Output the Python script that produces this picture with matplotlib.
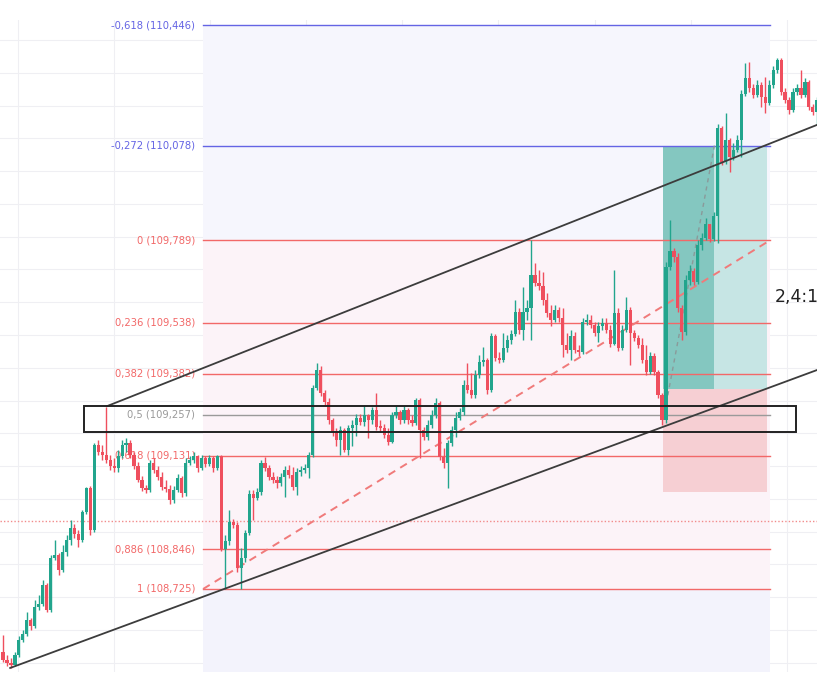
from __future__ import annotations

import matplotlib
matplotlib.use("Agg")
import matplotlib.pyplot as plt
import numpy as np
from matplotlib.patches import Rectangle


OUTPUT_FILE = "out.png"

# candle data (prices), open of each bar = previous close
FIRST_OPEN = 108.533
CLOSE = [
    108.509, 108.500, 108.494, 108.524, 108.570, 108.588, 108.631, 108.613, 108.671, 108.680,
    108.738, 108.661, 108.820, 108.829, 108.783, 108.838, 108.875, 108.912, 108.893, 108.875,
    108.960, 109.034, 108.905, 109.165, 109.143, 109.134, 109.119, 109.101, 109.095, 109.131,
    109.165, 109.171, 109.134, 109.101, 109.058, 109.034, 109.027, 109.110, 109.088, 109.067,
    109.037, 109.031, 108.997, 109.027, 109.064, 109.018, 109.110, 109.119, 109.131, 109.095,
    109.125, 109.107, 109.125, 109.095, 109.131, 108.848, 108.872, 108.930, 108.921, 108.790,
    108.820, 108.896, 109.015, 109.003, 109.021, 109.110, 109.095, 109.067, 109.058, 109.049,
    109.067, 109.088, 109.073, 109.037, 109.082, 109.088, 109.095, 109.134, 109.339, 109.393,
    109.323, 109.296, 109.241, 109.204, 109.180, 109.210, 109.149, 109.217, 109.226, 109.247,
    109.235, 109.256, 109.241, 109.271, 109.220, 109.217, 109.195, 109.174, 109.256, 109.265,
    109.241, 109.271, 109.241, 109.232, 109.302, 109.210, 109.189, 109.226, 109.256, 109.293,
    109.128, 109.110, 109.171, 109.210, 109.247, 109.265, 109.348, 109.332, 109.317, 109.378,
    109.418, 109.424, 109.332, 109.497, 109.430, 109.424, 109.461, 109.485, 109.503, 109.570,
    109.515, 109.570, 109.583, 109.683, 109.659, 109.650, 109.607, 109.567, 109.546, 109.576,
    109.552, 109.470, 109.454, 109.497, 109.454, 109.448, 109.540, 109.546, 109.531, 109.506,
    109.528, 109.537, 109.515, 109.473, 109.567, 109.461, 109.515, 109.576, 109.506, 109.491,
    109.470, 109.424, 109.387, 109.436, 109.387, 109.317, 109.241, 109.708, 109.756, 109.738,
    109.583, 109.509, 109.668, 109.695, 109.662, 109.775, 109.796, 109.839, 109.793, 109.863,
    110.132, 110.028, 110.095, 110.043, 110.064, 110.095, 110.235, 110.284, 110.254, 110.232,
    110.263, 110.226, 110.208, 110.263, 110.308, 110.339, 110.241, 110.217, 110.186, 110.241,
    110.254, 110.232, 110.272, 110.196, 110.180, 110.217,
]
HIGH = [
    108.585, 108.524, 108.515, 108.533, 108.582, 108.600, 108.655, 108.637, 108.692, 108.707,
    108.753, 108.744, 108.829, 108.875, 108.835, 108.860, 108.890, 108.936, 108.924, 108.905,
    108.966, 109.037, 109.040, 109.171, 109.180, 109.165, 109.281, 109.134, 109.125, 109.149,
    109.180, 109.186, 109.180, 109.143, 109.113, 109.070, 109.043, 109.119, 109.125, 109.101,
    109.082, 109.058, 109.043, 109.040, 109.076, 109.070, 109.125, 109.131, 109.143, 109.134,
    109.134, 109.131, 109.134, 109.131, 109.134, 109.134, 108.890, 108.966, 108.939, 108.930,
    108.851, 108.905, 109.027, 109.027, 109.034, 109.119, 109.128, 109.104, 109.082, 109.070,
    109.079, 109.101, 109.104, 109.098, 109.095, 109.101, 109.107, 109.143, 109.348, 109.415,
    109.406, 109.332, 109.308, 109.247, 109.217, 109.223, 109.217, 109.226, 109.241, 109.259,
    109.259, 109.287, 109.259, 109.281, 109.323, 109.241, 109.229, 109.217, 109.265, 109.284,
    109.271, 109.284, 109.278, 109.256, 109.308, 109.308, 109.220, 109.241, 109.271, 109.308,
    109.299, 109.156, 109.180, 109.223, 109.265, 109.278, 109.363, 109.415, 109.384, 109.393,
    109.439, 109.464, 109.430, 109.506, 109.503, 109.448, 109.506, 109.500, 109.515, 109.607,
    109.583, 109.647, 109.607, 109.790, 109.720, 109.698, 109.692, 109.628, 109.592, 109.592,
    109.586, 109.583, 109.506, 109.515, 109.509, 109.470, 109.552, 109.564, 109.561, 109.540,
    109.540, 109.552, 109.552, 109.531, 109.698, 109.583, 109.531, 109.616, 109.586, 109.515,
    109.500, 109.491, 109.470, 109.448, 109.445, 109.393, 109.323, 109.723, 109.851, 109.766,
    109.750, 109.592, 109.683, 109.714, 109.705, 109.790, 109.811, 109.857, 109.839, 109.875,
    110.144, 110.138, 110.177, 110.101, 110.086, 110.110, 110.247, 110.330, 110.333, 110.266,
    110.278, 110.272, 110.287, 110.278, 110.321, 110.345, 110.345, 110.254, 110.226, 110.254,
    110.266, 110.308, 110.284, 110.278, 110.205, 110.226,
]
LOW = [
    108.503, 108.491, 108.485, 108.491, 108.518, 108.564, 108.582, 108.600, 108.607, 108.661,
    108.674, 108.655, 108.655, 108.814, 108.768, 108.777, 108.826, 108.860, 108.881, 108.854,
    108.869, 108.954, 108.890, 108.899, 109.134, 109.119, 109.110, 109.088, 109.082, 109.082,
    109.125, 109.143, 109.125, 109.092, 109.052, 109.024, 109.018, 109.021, 109.079, 109.058,
    109.027, 109.021, 108.985, 108.988, 109.021, 109.006, 109.009, 109.104, 109.110, 109.082,
    109.088, 109.098, 109.101, 109.082, 109.088, 108.841, 108.726, 108.860, 108.912, 108.777,
    108.726, 108.808, 108.890, 108.936, 108.997, 109.012, 109.085, 109.058, 109.049, 109.034,
    109.040, 109.006, 109.064, 109.027, 109.012, 109.070, 109.079, 109.064, 109.128, 109.332,
    109.314, 109.284, 109.229, 109.192, 109.162, 109.134, 109.143, 109.134, 109.162, 109.192,
    109.226, 109.223, 109.186, 109.229, 109.210, 109.204, 109.186, 109.165, 109.171, 109.247,
    109.229, 109.232, 109.229, 109.223, 109.226, 109.125, 109.180, 109.180, 109.217, 109.247,
    109.119, 109.095, 109.034, 109.162, 109.189, 109.241, 109.256, 109.323, 109.308, 109.308,
    109.369, 109.406, 109.320, 109.326, 109.421, 109.415, 109.418, 109.448, 109.473, 109.497,
    109.503, 109.485, 109.546, 109.485, 109.650, 109.637, 109.592, 109.555, 109.528, 109.540,
    109.540, 109.433, 109.445, 109.424, 109.445, 109.436, 109.442, 109.531, 109.522, 109.497,
    109.479, 109.515, 109.506, 109.464, 109.470, 109.451, 109.454, 109.509, 109.409, 109.482,
    109.461, 109.415, 109.378, 109.381, 109.378, 109.308, 109.226, 109.232, 109.698, 109.723,
    109.570, 109.485, 109.500, 109.653, 109.653, 109.656, 109.759, 109.790, 109.784, 109.787,
    109.781, 110.019, 110.022, 109.997, 110.034, 110.058, 110.043, 110.229, 110.241, 110.223,
    110.226, 110.196, 110.177, 110.202, 110.254, 110.300, 110.232, 110.208, 110.174, 110.180,
    110.232, 110.223, 110.226, 110.186, 110.171, 110.141,
]

# fibonacci retracement drawn from the swing low to the swing high
FIB_LEVELS = [-0.618, -0.272, 0, 0.236, 0.382, 0.5, 0.618, 0.886, 1]
FIB_PRICES = [110.446, 110.078, 109.789, 109.538, 109.382, 109.257, 109.131, 108.846, 108.725]
FIB_START_BAR = 50.4
FIB_END_BAR = 193.2

# trend channel (bar, price) anchors
UPPER_CHANNEL_BARS = [26.2, 205.0]
UPPER_CHANNEL_PRICES = [109.283, 110.141]
LOWER_CHANNEL_BARS = [1.8, 205.0]
LOWER_CHANNEL_PRICES = [108.484, 109.393]

# zone box around the 0.5 level
ZONE_BARS = [20.4, 199.7]
ZONE_PRICES = [109.204, 109.283]

# long position tool
POS_START_BAR = 166.3
POS_HIT_BAR = 179.2
POS_END_BAR = 192.4
ENTRY = 109.335
TARGET = 110.078
STOP = 109.021
PATH_PRICES = [109.241, 110.078]

LAST_PRICE = 108.931

GREEN = "#22a58d"
RED = "#ef4f5e"
BLUE_LEVEL = "#6464e4"
RED_LEVEL = "#f26868"
GRAY_LEVEL = "#9a9a9a"


def main() -> None:
    close = np.array(CLOSE)
    open_ = np.concatenate([[FIRST_OPEN], close[:-1]])
    high = np.maximum.reduce([np.array(HIGH), open_, close])
    low = np.minimum.reduce([np.array(LOW), open_, close])
    bars = np.arange(len(close))

    fig = plt.figure(figsize=(8.26, 6.8), dpi=100)
    ax = fig.add_axes([0, 8 / 680, 817 / 826, 652 / 680])
    ax.set_xlim(-0.76, 205.04)
    ax.set_ylim(108.4717, 110.4613)
    ax.axis("off")

    # grid
    for p in np.arange(108.5, 110.45, 0.1):
        ax.axhline(p, color="#efeff3", lw=0.8, zorder=0)
    for b in np.arange(3.8, 205, 24.2):
        ax.axvline(b, color="#efeff3", lw=0.8, zorder=0)

    # fib backgrounds
    fx = [FIB_START_BAR, FIB_END_BAR]
    ax.fill_between(fx, FIB_PRICES[2], FIB_PRICES[0], color="#f6f6fd", zorder=0.5, lw=0)
    ax.fill_between(fx, FIB_PRICES[-1], FIB_PRICES[2], color="#fcf3f8", zorder=0.5, lw=0)
    ax.fill_between(fx, 108.4717, FIB_PRICES[-1], color="#f3f3fc", zorder=0.5, lw=0)

    # position tool
    ax.add_patch(Rectangle((POS_START_BAR, ENTRY), POS_HIT_BAR - POS_START_BAR, TARGET - ENTRY,
                           facecolor="#84c7c0", edgecolor="none", zorder=1))
    ax.add_patch(Rectangle((POS_HIT_BAR, ENTRY), POS_END_BAR - POS_HIT_BAR, TARGET - ENTRY,
                           facecolor="#c6e5e4", edgecolor="none", zorder=1))
    ax.add_patch(Rectangle((POS_START_BAR, STOP), POS_END_BAR - POS_START_BAR, ENTRY - STOP,
                           facecolor="#f6cfd3", edgecolor="none", zorder=1))

    # fib levels and labels
    for lvl, price in zip(FIB_LEVELS, FIB_PRICES):
        if lvl < 0:
            color = BLUE_LEVEL
        elif lvl == 0.5:
            color = GRAY_LEVEL
        else:
            color = RED_LEVEL
        ax.plot(fx, [price, price], color=color, lw=1.0, zorder=2)
        label = f"{lvl:g} ({price:.3f})".replace(".", ",")
        ax.text(48.4, price, label, color=color, fontsize=7.2, ha="right", va="center", zorder=3)

    ax.plot(fx, [FIB_PRICES[-1], FIB_PRICES[2]], color="#f07a7a", lw=1.4, ls=(0, (4, 3)), zorder=2)
    ax.axhline(LAST_PRICE, color="#f28b8b", lw=1.0, ls=(0, (1, 1.5)), zorder=2)
    ax.plot([POS_START_BAR, POS_HIT_BAR], PATH_PRICES, color="#8a9a9a", lw=1.0, ls=(0, (3, 3)), zorder=2)

    # candles
    colors = np.where(close >= open_, GREEN, RED)
    ax.vlines(bars, low, high, colors=colors, lw=1.0, zorder=4)
    body = np.maximum(np.abs(close - open_), 0.004)
    ax.bar(bars, body, bottom=np.minimum(open_, close), width=0.8, color=colors, lw=0, zorder=4)

    # channel and zone
    ax.plot(UPPER_CHANNEL_BARS, UPPER_CHANNEL_PRICES, color="#3c3c3c", lw=1.3, zorder=5)
    ax.plot(LOWER_CHANNEL_BARS, LOWER_CHANNEL_PRICES, color="#3c3c3c", lw=1.3, zorder=5)
    ax.add_patch(Rectangle((ZONE_BARS[0], ZONE_PRICES[0]), ZONE_BARS[1] - ZONE_BARS[0],
                           ZONE_PRICES[1] - ZONE_PRICES[0], facecolor="none",
                           edgecolor="#222222", lw=1.4, zorder=5))

    ratio = (TARGET - ENTRY) / (ENTRY - STOP)
    ax.text(194.3, 109.616, f"{ratio:.1f}".replace(".", ",") + ":1", fontsize=12.5,
            color="#222222", ha="left", va="center", zorder=6)

    fig.savefig(OUTPUT_FILE, dpi=100)


if __name__ == "__main__":
    main()
